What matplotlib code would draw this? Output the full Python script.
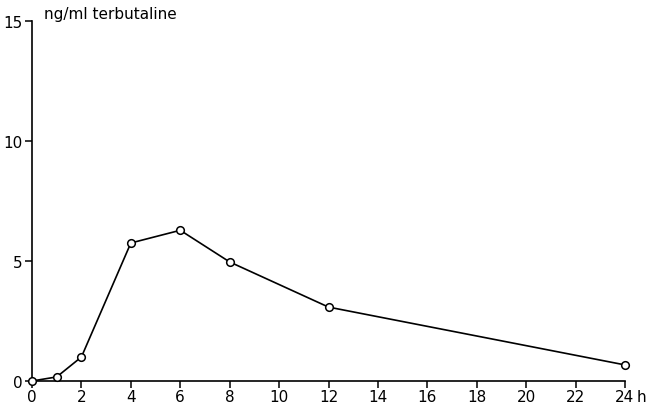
import matplotlib
matplotlib.use("Agg")
import matplotlib.pyplot as plt

hours = [0, 1, 2, 4, 6, 8, 12, 24]
conc = [0.0, 0.17, 1.0, 5.75, 6.28, 4.96, 3.08, 0.67]
xticks = list(range(0, 25, 2))
yticks = [0, 5, 10, 15]

plt.rcParams['font.family'] = ['DejaVu Sans']
fig = plt.figure(figsize=(6.5, 4.06), dpi=100)
ax = fig.add_axes([32/650, 24/406, (625-32)/650, (382-22)/406])
ax.plot(hours, conc, color='black', lw=1.2, marker='o', ms=5.5,
        mfc='white', mec='black', mew=1.1, clip_on=False, zorder=3)
ax.set_xlim(0, 24)
ax.set_ylim(0, 15)
ax.set_xticks(xticks)
ax.set_xticklabels([str(t) for t in xticks])
ax.set_yticks(yticks)
ax.set_yticklabels([str(t) for t in yticks])
for s in ['top', 'right']:
    ax.spines[s].set_visible(False)
for s in ['left', 'bottom']:
    ax.spines[s].set_linewidth(1.2)
ax.tick_params(axis='x', direction='out', length=5, width=1.1, labelsize=11, pad=1)
ax.tick_params(axis='y', direction='out', length=5, width=1.1, labelsize=11, pad=2)
fig.text(637/650, 1 - 390/406, 'h', ha='left', va='top', fontsize=11)
ax.text(0.02, 1.0, 'ng/ml terbutaline', transform=ax.transAxes, ha='left', va='bottom', fontsize=11)
fig.savefig('out.png', dpi=100)
